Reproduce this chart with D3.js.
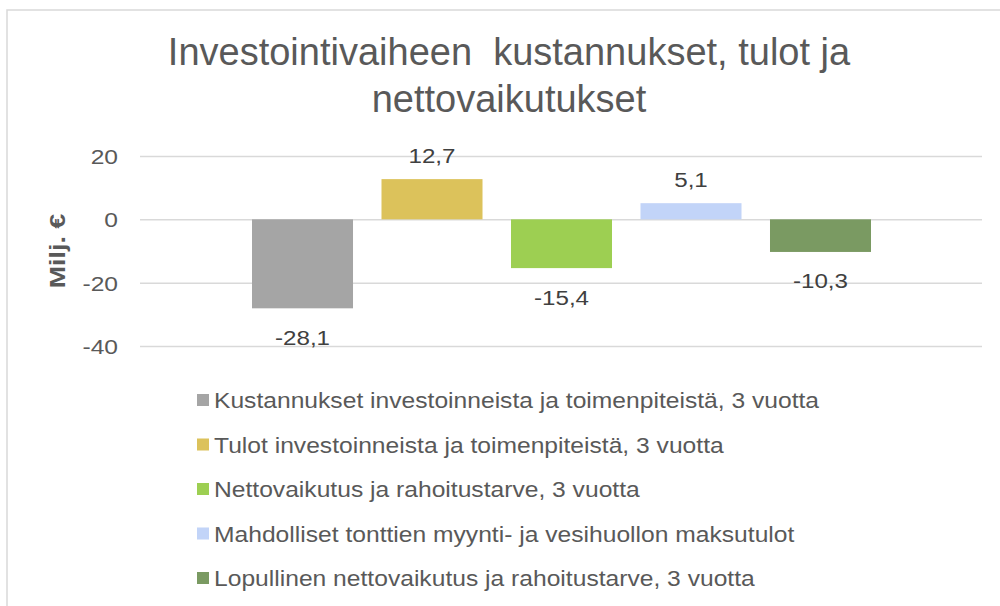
<!DOCTYPE html>
<html>
<head>
<meta charset="utf-8">
<script src="https://cdn.jsdelivr.net/npm/d3@7"></script>
<style>
  html, body { margin: 0; padding: 0; background: #fff; }
  svg { display: block; font-family: "Liberation Sans", Arial, sans-serif; }
</style>
</head>
<body>
<svg id="chart" width="1000" height="606"></svg>
<script>
// ---- data ----
const titleLines = ["Investointivaiheen  kustannukset, tulot ja", "nettovaikutukset"];
const seriesNames = [
  "Kustannukset investoinneista ja toimenpiteistä, 3 vuotta",
  "Tulot investoinneista ja toimenpiteistä, 3 vuotta",
  "Nettovaikutus ja rahoitustarve, 3 vuotta",
  "Mahdolliset tonttien myynti- ja vesihuollon maksutulot",
  "Lopullinen nettovaikutus ja rahoitustarve, 3 vuotta"
];
const seriesValues = [-28.1, 12.7, -15.4, 5.1, -10.3];
const seriesColors = ["#a5a5a5", "#dcc25b", "#9dcf52", "#c2d4f8", "#7a9a62"];
const yTicks = [20, 0, -20, -40];
const yTitle = "Milj. €";

// ---- layout ----
const svg = d3.select("#chart");
svg.append("rect").attr("x", 0).attr("y", 0).attr("width", 1000).attr("height", 606).attr("fill", "#fff");
svg.append("rect").attr("x", 7).attr("y", 10).attr("width", 1010).attr("height", 620)
  .attr("fill", "none").attr("stroke", "#d9d9d9").attr("stroke-width", 1.5);

const plotLeft = 140, plotRight = 982;
const y = d3.scaleLinear().domain([-40, 20]).range([346, 156]);
const x = d3.scaleBand().domain(seriesNames).range([252, 871]).paddingInner(0.22).paddingOuter(0);
const hyph = s => s.replace(/\u2212/g, "-");
const SX = 1.15; // horizontal stretch of the reference's text

// title
svg.append("g").selectAll("text").data(titleLines).join("text")
  .attr("x", 509).attr("y", (d, i) => 65 + i * 47)
  .attr("text-anchor", "middle").attr("font-size", 38).attr("fill", "#595959")
  .style("white-space", "pre")
  .text(d => d);

// gridlines + tick labels
const yAxis = d3.axisLeft(y).tickValues(yTicks).tickSize(-(plotRight - plotLeft)).tickPadding(0)
  .tickFormat(d => hyph(d3.format("d")(d)));
const ga = svg.append("g").attr("transform", `translate(${plotLeft},0)`).call(yAxis);
ga.attr("font-size", null).attr("font-family", null);
ga.select(".domain").remove();
ga.selectAll(".tick line").attr("stroke", "#d9d9d9").attr("stroke-width", 1.5);
ga.selectAll(".tick text").attr("font-size", 20.5).attr("fill", "#595959").attr("dy", "0.36em")
  .attr("x", -22 / 1.2).attr("transform", "scale(1.2,1)");

// y title
svg.append("text").attr("transform", "translate(65,251) rotate(-90) scale(1.22,1)")
  .attr("text-anchor", "middle").attr("font-size", 22).attr("font-weight", "bold")
  .attr("fill", "#595959").text(yTitle);

// bars
const data = seriesNames.map((n, i) => ({ name: n, value: seriesValues[i], color: seriesColors[i] }));
svg.append("g").selectAll("rect").data(data).join("rect")
  .attr("x", d => x(d.name)).attr("width", x.bandwidth())
  .attr("y", d => y(Math.max(0, d.value)))
  .attr("height", d => Math.abs(y(d.value) - y(0)))
  .attr("fill", d => d.color);

// data labels
const fmt = v => hyph(d3.format(".1f")(v)).replace(".", ",");
svg.append("g").selectAll("text").data(data).join("text")
  .attr("transform", d => `translate(${x(d.name) + x.bandwidth() / 2},${d.value >= 0 ? y(d.value) - 16.5 : y(d.value) + 36.5}) scale(${SX},1)`)
  .attr("text-anchor", "middle").attr("font-size", 21).attr("fill", "#404040")
  .text(d => fmt(d.value));

// legend
const lg = svg.append("g").selectAll("g").data(data).join("g")
  .attr("transform", (d, i) => `translate(197,${400 + i * 44.5})`);
lg.append("rect").attr("x", 0).attr("y", -6).attr("width", 12).attr("height", 12).attr("fill", d => d.color);
lg.append("text").attr("transform", `translate(17,8) scale(1.12,1)`).attr("font-size", 22).attr("fill", "#595959")
  .text(d => d.name);
</script>
</body>
</html>
